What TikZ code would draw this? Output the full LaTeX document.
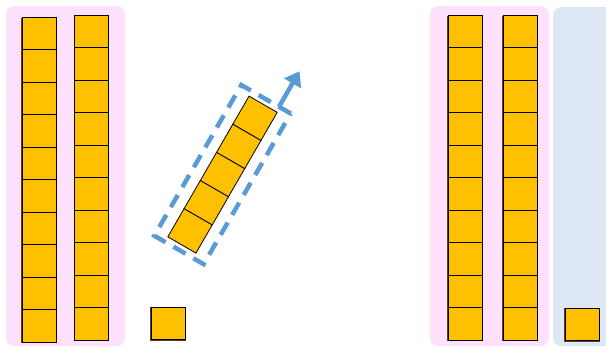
\documentclass[tikz,border=0pt]{standalone}
\usetikzlibrary{arrows.meta}
\definecolor{gold}{HTML}{FFC000}
\definecolor{pinkbg}{HTML}{FFE1FE}
\definecolor{bluebg}{HTML}{DEE8F4}
\definecolor{dashblue}{HTML}{5B9BD5}
\definecolor{shadowbrown}{HTML}{5E4020}
\begin{document}
\begin{tikzpicture}[x=1pt,y=-1pt,
  panel/.style={rounded corners=8pt, draw=none},
  cell/.style={draw=black, fill=gold, line width=0.8pt, minimum width=34pt,
    minimum height=32.5pt, inner sep=0pt, outer sep=0pt},
  colshadow/.style={fill=shadowbrown},
  selbox/.style={draw=dashblue, line width=4.5pt, dash pattern=on 14pt off 9pt,
    minimum width=57pt, minimum height=174pt, inner sep=0pt},
  movearrow/.style={draw=dashblue, line width=4.5pt,
    -{Triangle[length=14pt,width=19pt]}}
]
\clip (0,0) rectangle (606,349);
% panels
\fill[panel, pinkbg] (6,6) rectangle (125,346);
\fill[panel, pinkbg] (430,6) rectangle (549,346);
\fill[panel, bluebg] (553,7) rectangle (630,346);
% column shadows
\fill[colshadow] (21,17.5) rectangle (57.3,342.5);
\fill[colshadow] (74.3,15.5) rectangle (109.3,340.5);
\fill[colshadow] (447.3,15.5) rectangle (483,340.5);
\fill[colshadow] (502.3,15.5) rectangle (538,340.5);
% columns
\foreach \i in {0,...,9} {
  \node[cell] (la\i) at (39, 33.25+32.5*\i) {};
  \node[cell] (lb\i) at (91.5, 31.25+32.5*\i) {};
  \node[cell] (ra\i) at (465, 31.25+32.5*\i) {};
  \node[cell] (rb\i) at (520, 31.25+32.5*\i) {};
}
% single squares
\fill[colshadow] (150.3,306.5) rectangle (185.7,340.5);
\node[cell] (s1) at (168,323.5) {};
\fill[colshadow] (564.3,307.5) rectangle (599.7,341.5);
\node[cell] (s2) at (582,324.5) {};
% tilted bar
\begin{scope}[shift={(222.5,174.6)}, rotate=-30]
  \foreach \k in {0,...,4} {
    \node[cell, transform shape, minimum width=32.5pt] (t\k) at (0, -65+32.5*\k) {};
  }
  \node[selbox, transform shape] (sel) at (0,0) {};
  \coordinate (astart) at (15,-87);
  \coordinate (atip) at (15,-128);
\end{scope}
\draw[movearrow] (astart) -- (atip);
\end{tikzpicture}
\end{document}
